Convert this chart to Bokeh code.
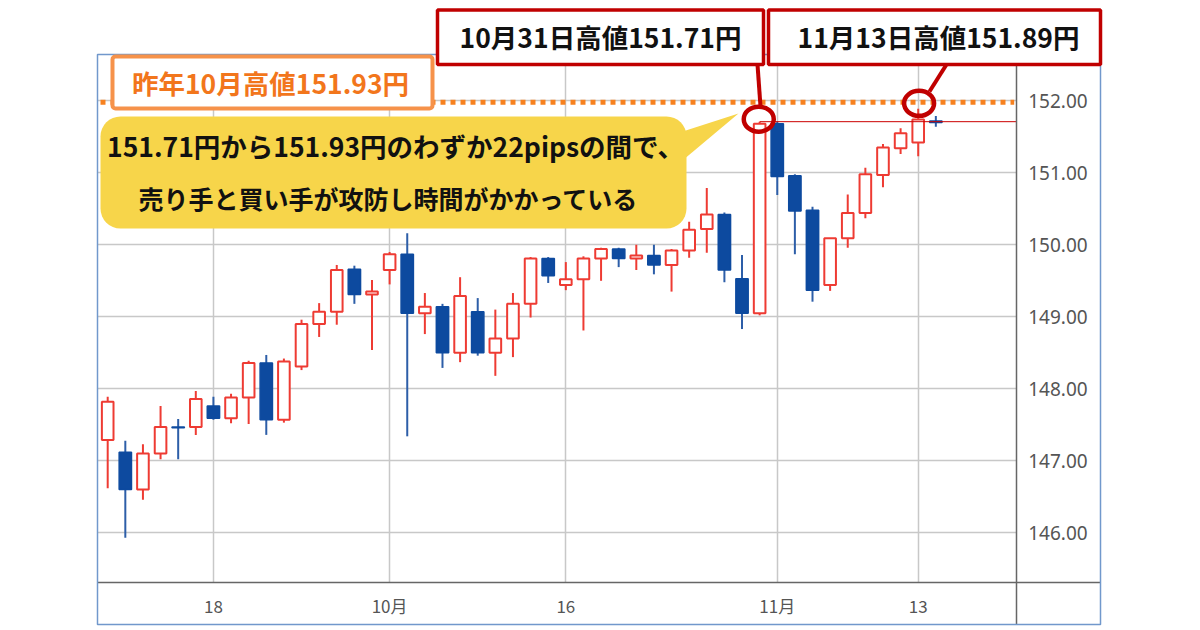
from bokeh.plotting import figure
from bokeh.models import (Range1d, FixedTicker, BoxAnnotation, PolyAnnotation,
                          Label, ColumnDataSource, Grid)
from bokeh.embed import file_html
from bokeh.resources import INLINE

# ---------------- data ----------------
dates = ["9/8", "9/11", "9/12", "9/13", "9/14", "9/15", "9/18", "9/19", "9/20", "9/21",
         "9/22", "9/25", "9/26", "9/27", "9/28", "9/29", "10/2", "10/3", "10/4", "10/5",
         "10/6", "10/9", "10/10", "10/11", "10/12", "10/13", "10/16", "10/17", "10/18", "10/19",
         "10/20", "10/23", "10/24", "10/25", "10/26", "10/27", "10/30", "10/31", "11/1", "11/2",
         "11/3", "11/6", "11/7", "11/8", "11/9", "11/10", "11/13", "11/14"]
opens = [147.29, 147.12, 146.60, 147.10, 147.47, 147.47, 147.76, 147.59, 147.88, 148.36,
         147.57, 148.31, 148.90, 149.07, 149.66, 149.31, 149.65, 149.87, 149.05, 149.14,
         148.50, 149.07, 148.50, 148.70, 149.18, 149.81, 149.44, 149.52, 149.81, 149.94,
         149.81, 149.85, 149.72, 149.92, 150.22, 150.42, 149.53, 149.05, 151.68, 150.96,
         150.48, 149.44, 150.09, 150.44, 150.97, 151.34, 151.42, 151.72]
highs = [147.89, 147.28, 147.23, 147.76, 147.58, 147.97, 147.89, 147.93, 148.39, 148.47,
         148.42, 148.96, 149.19, 149.72, 149.71, 149.51, 149.90, 150.16, 149.33, 149.18,
         149.55, 149.26, 149.10, 149.33, 149.83, 149.83, 149.76, 149.84, 149.96, 149.96,
         150.00, 150.00, 149.94, 150.32, 150.79, 150.45, 149.86, 151.71, 151.71, 150.98,
         150.53, 150.09, 150.70, 151.07, 151.40, 151.62, 151.89, 151.79]
lows = [146.62, 145.93, 146.46, 147.02, 147.02, 147.36, 147.57, 147.52, 147.51, 147.36,
        147.53, 148.26, 148.72, 148.89, 149.18, 148.54, 149.45, 147.34, 148.76, 148.29,
        148.37, 148.46, 148.18, 148.44, 148.99, 149.47, 149.37, 148.81, 149.50, 149.69,
        149.65, 149.59, 149.35, 149.82, 149.89, 149.48, 148.83, 149.02, 150.69, 149.87,
        149.21, 149.36, 149.96, 150.37, 150.80, 151.26, 151.23, 151.64]
closes = [147.82, 146.60, 147.10, 147.47, 147.46, 147.86, 147.59, 147.88, 148.36, 147.57,
          148.38, 148.90, 149.07, 149.65, 149.31, 149.35, 149.87, 149.05, 149.14, 148.50,
          149.29, 148.50, 148.70, 149.18, 149.81, 149.57, 149.52, 149.81, 149.94, 149.81,
          149.85, 149.72, 149.92, 150.21, 150.42, 149.65, 149.05, 151.68, 150.95, 150.47,
          149.37, 150.09, 150.44, 150.98, 151.35, 151.55, 151.74, 151.70]

x_tick_pos = [6, 16, 26, 38, 46]
x_tick_labels = ["18", "10月", "16", "11月", "13"]
y_ticks = [146, 147, 148, 149, 150, 151, 152]
y_tick_labels = ["146.00", "147.00", "148.00", "149.00", "150.00", "151.00", "152.00"]

last_year_high = 151.98      # drawn position of the 151.93 line
oct31_high = 151.71
idx_oct31 = 37
idx_nov13 = 46

# ---------------- geometry (canvas px) ----------------
W, H = 1200, 630
FL, FR, FT, FB = 97.0, 1015.7, 54.0, 582.0      # chart area
OR, OB = 1100.0, 624.0                           # outer border right / bottom
X0PX, DXPX = 107.2, 17.62                        # px of index 0, px per day
Y152, DYPX = 100.3, 72.0                         # px of 152.00, px per yen
X_START = -X0PX / DXPX
X_END = (W - X0PX) / DXPX
Y_END = 152 + Y152 / DYPX
Y_START = 152 - (H - Y152) / DYPX

def dx(px):
    return X_START + px / W * (X_END - X_START)

def dy(py):
    return Y_END - py / H * (Y_END - Y_START)

p = figure(width=W, height=H, output_backend="svg", toolbar_location=None,
           x_range=Range1d(X_START, X_END), y_range=Range1d(Y_START, Y_END),
           y_axis_location="right", title=None, min_border=0)
p.background_fill_color = "white"
p.border_fill_color = "white"
p.outline_line_color = None

AX = "#666666"
p.xaxis.ticker = FixedTicker(ticks=x_tick_pos)
p.xaxis.major_label_overrides = dict(zip(x_tick_pos, x_tick_labels))
p.yaxis.ticker = FixedTicker(ticks=y_ticks)
p.yaxis.major_label_overrides = dict(zip(y_ticks, y_tick_labels))
for ax in (p.xaxis[0], p.yaxis[0]):
    ax.axis_line_color = AX
    ax.axis_line_width = 1.5
    ax.major_tick_line_color = None
    ax.minor_tick_line_color = None
    ax.major_tick_out = 0
    ax.major_tick_in = 0
    ax.major_label_text_color = "#555555"
p.xaxis.fixed_location = dy(FB)
p.xaxis.bounds = (dx(FL), dx(OR))
p.yaxis.fixed_location = dx(FR)
p.yaxis.bounds = (dy(OB), dy(FT))
p.xaxis.major_label_text_font = "Noto Sans CJK JP"
p.xaxis.major_label_text_font_size = "17px"
p.xaxis.major_label_standoff = 10
p.yaxis.major_label_text_font = "Noto Sans"
p.yaxis.major_label_text_font_size = "19px"
p.yaxis.major_label_standoff = 12

GRID_C = "#c8c8c8"
p.xgrid.visible = False
p.ygrid.visible = False
if "cross_bounds" in Grid.properties():
    p.xgrid.visible = True
    p.ygrid.visible = True
    p.xgrid.ticker = FixedTicker(ticks=x_tick_pos)
    p.ygrid.ticker = FixedTicker(ticks=y_ticks)
    p.xgrid.cross_bounds = (dy(FB), dy(FT))
    p.ygrid.cross_bounds = (dx(FL), dx(FR))
    for g in (p.xgrid[0], p.ygrid[0]):
        g.grid_line_color = GRID_C
        g.grid_line_width = 1.5
else:
    p.segment(x0=x_tick_pos, y0=[dy(FB)] * len(x_tick_pos), x1=x_tick_pos,
              y1=[dy(FT)] * len(x_tick_pos), line_color=GRID_C, line_width=1.5)
    p.segment(x0=[dx(FL)] * len(y_ticks), y0=y_ticks, x1=[dx(FR)] * len(y_ticks),
              y1=y_ticks, line_color=GRID_C, line_width=1.5)

# ---------------- candles ----------------
RED = "#ee3b33"
BLUE = "#0d4a9f"
BLUE_W = "#2d5ea8"
idx = list(range(len(dates)))
up = [c >= o for o, c in zip(opens, closes)]

def pick(flag):
    return ColumnDataSource(dict(
        x=[i for i, u in zip(idx, up) if u == flag],
        h=[v for v, u in zip(highs, up) if u == flag],
        l=[v for v, u in zip(lows, up) if u == flag],
        top=[max(o, c) for o, c, u in zip(opens, closes, up) if u == flag],
        bot=[min(o, c) for o, c, u in zip(opens, closes, up) if u == flag]))

src_up, src_dn = pick(True), pick(False)
p.segment(x0="x", y0="h", x1="x", y1="l", source=src_up, line_color=RED, line_width=2)
p.vbar(x="x", top="top", bottom="bot", width=0.66, source=src_up,
       fill_color="white", line_color=RED, line_width=2)
p.segment(x0="x", y0="h", x1="x", y1="l", source=src_dn, line_color=BLUE_W, line_width=2)
p.vbar(x="x", top="top", bottom="bot", width=0.70, source=src_dn,
       fill_color=BLUE, line_color=BLUE, line_width=1.5)

# ---------------- reference lines ----------------
p.segment(x0=[idx_oct31], y0=[oct31_high], x1=[dx(FR)], y1=[oct31_high],
          line_color="#cc0000", line_width=1)
p.segment(x0=[dx(FL + 3)], y0=[last_year_high], x1=[dx(FR - 2)], y1=[last_year_high],
          line_color="#f7811f", line_width=5, line_dash="5 5")

# circles and connectors
DARKRED = "#c00000"
p.ellipse(x=[idx_oct31 - 0.05], y=[oct31_high + 0.035], width=30, height=25,
          width_units="screen", height_units="screen", fill_color=None,
          line_color=DARKRED, line_width=4.5)
p.ellipse(x=[idx_nov13 + 0.05], y=[highs[idx_nov13] + 0.075], width=30, height=25,
          width_units="screen", height_units="screen", fill_color=None,
          line_color=DARKRED, line_width=4.5)
p.segment(x0=[dx(757)], y0=[dy(64)], x1=[dx(760)], y1=[dy(106)], line_color=DARKRED, line_width=4)
p.segment(x0=[dx(946)], y0=[dy(64)], x1=[dx(929)], y1=[dy(91)], line_color=DARKRED, line_width=4)

# ---------------- outer frame ----------------
p.add_layout(BoxAnnotation(left=dx(FL), right=dx(OR), top=dy(FT), bottom=dy(OB),
                           fill_alpha=0, line_color="#7198cc", line_alpha=1, line_width=1.5))

# ---------------- yellow callout ----------------
YEL = "#f7d54a"
JP = "Noto Sans CJK JP"
p.add_layout(PolyAnnotation(xs=[dx(676), dx(738), dx(676)], ys=[dy(133), dy(113), dy(165)],
                            fill_color=YEL, fill_alpha=1, line_alpha=0))
p.add_layout(BoxAnnotation(left=dx(100), right=dx(686), top=dy(116), bottom=dy(228),
                           fill_color=YEL, fill_alpha=1, line_alpha=0, border_radius=20))
p.add_layout(Label(x=dx(395), y=dy(145), text="151.71円から151.93円のわずか22pipsの間で、",
                   text_align="center", text_baseline="middle", text_font=JP,
                   text_font_size="26.5px", text_font_style="bold", text_color="#111111"))
p.add_layout(Label(x=dx(388), y=dy(197), text="売り手と買い手が攻防し時間がかかっている",
                   text_align="center", text_baseline="middle", text_font=JP,
                   text_font_size="25px", text_font_style="bold", text_color="#111111"))

# ---------------- orange box ----------------
p.add_layout(BoxAnnotation(left=dx(112), right=dx(432), top=dy(56), bottom=dy(108),
                           fill_color="white", fill_alpha=1, line_color="#f6924a",
                           line_alpha=1, line_width=4, border_radius=3))
p.add_layout(Label(x=dx(270), y=dy(82), text="昨年10月高値151.93円",
                   text_align="center", text_baseline="middle", text_font=JP,
                   text_font_size="26.5px", text_font_style="bold", text_color="#f2761c"))

# ---------------- red boxes ----------------
p.add_layout(BoxAnnotation(left=dx(437), right=dx(763), top=dy(9.5), bottom=dy(64),
                           fill_color="white", fill_alpha=1, line_color=DARKRED,
                           line_alpha=1, line_width=3.5))
p.add_layout(Label(x=dx(600), y=dy(36), text="10月31日高値151.71円",
                   text_align="center", text_baseline="middle", text_font=JP,
                   text_font_size="26.5px", text_font_style="bold", text_color="#111111"))
p.add_layout(BoxAnnotation(left=dx(768), right=dx(1100), top=dy(9.5), bottom=dy(64),
                           fill_color="white", fill_alpha=1, line_color=DARKRED,
                           line_alpha=1, line_width=3.5))
p.add_layout(Label(x=dx(938), y=dy(36), text="11月13日高値151.89円",
                   text_align="center", text_baseline="middle", text_font=JP,
                   text_font_size="26.5px", text_font_style="bold", text_color="#111111"))

open("out.html", "w").write(file_html(p, INLINE))
